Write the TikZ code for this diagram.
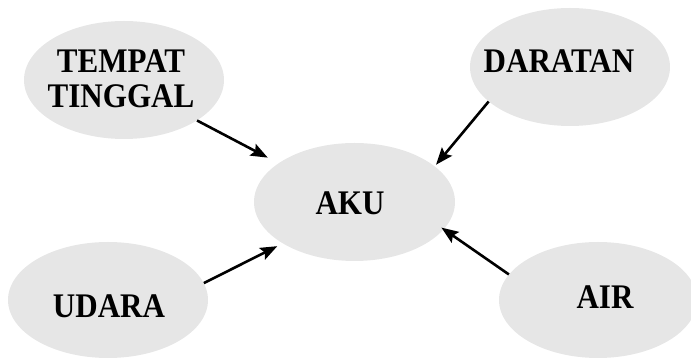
\documentclass[tikz,border=0pt]{standalone}
\usepackage{fontspec}
\setmainfont{Liberation Serif}
\newfontfamily\lblfont{Liberation Serif}[FakeStretch=0.9]
\usetikzlibrary{arrows.meta,shapes.geometric}
\definecolor{blobgray}{HTML}{E6E6E6}
\tikzset{
  blob/.style={ellipse, fill=blobgray, draw=none, minimum width=200pt, minimum height=118pt, inner sep=0pt},
  lbl/.style={font=\lblfont\bfseries\fontsize{34.5}{34.5}\selectfont, align=center, inner sep=0pt, text=black},
  conn/.style={line width=2.6pt, -{Stealth[length=17pt,width=13pt,inset=3pt]}}
}
\begin{document}
\begin{tikzpicture}[x=1pt,y=1pt]
\useasboundingbox (0,0) rectangle (691,358);
\node[blob] (tt) at (124,278) {};
\node[blob] (dar) at (570,291) {};
\node[blob, minimum width=201pt] (aku) at (354.5,156) {};
\node[blob, minimum height=116pt] (ud) at (108,58) {};
\node[blob, minimum width=198pt, minimum height=116pt] (air) at (598,58) {};
\node[lbl] (ttl) at (121,279) {TEMPAT\\TINGGAL};
\node[lbl] (darl) at (559,296.5) {DARATAN};
\node[lbl] (akul) at (350,154.5) {AKU};
\node[lbl] (udl) at (109,52) {UDARA};
\node[lbl] (airl) at (605,61) {AIR};
\draw[conn, shorten >=12pt] (tt.-29) -- (aku.153);
\draw[conn, shorten >=2pt] (dar.203) -- (aku.24);
\draw[conn, shorten >=6pt] (ud.10) -- (aku.210);
\draw[conn, shorten >=-3pt] (air.164) -- (aku.-17);
\end{tikzpicture}
\end{document}
